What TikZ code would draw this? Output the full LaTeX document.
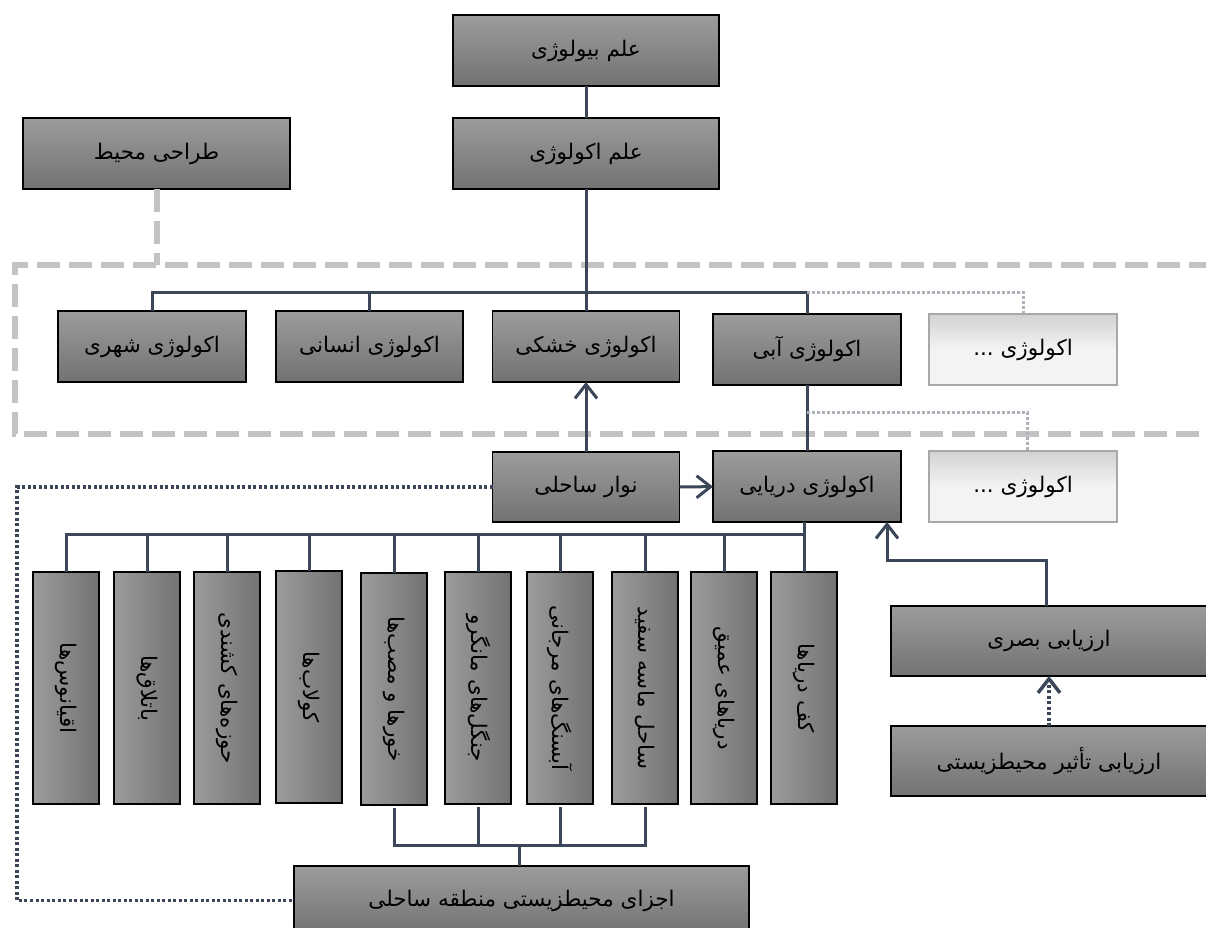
\documentclass[tikz,border=0pt]{standalone}
\usepackage{fontspec}
\usetikzlibrary{arrows.meta,calc}
\newfontfamily\fa[Script=Arabic]{DejaVu Sans}
\TeXXeTstate=1
\newcommand\myR[1]{\beginR#1\endR}
\definecolor{connc}{HTML}{3B4658}
\definecolor{boxtop}{HTML}{9C9C9C}
\definecolor{boxbot}{HTML}{727272}
\definecolor{dashc}{HTML}{C3C3C3}
\definecolor{dotgc}{HTML}{ADB2BB}
\definecolor{litetop}{HTML}{D2D2D2}
\definecolor{litebot}{HTML}{F3F3F3}
\definecolor{liteedge}{HTML}{A8A8A8}
\tikzset{
  box/.style={draw=black, line width=1.1pt, top color=boxtop, bottom color=boxbot,
    inner sep=0pt, outer sep=0pt, minimum height=71pt,
    font=\fa\fontsize{21.5}{25}\selectfont},
  litebox/.style={draw=liteedge, line width=1.1pt, top color=litetop, bottom color=litebot, middle color=litebot,
    inner sep=0pt, outer sep=0pt, minimum width=188pt, minimum height=71pt,
    font=\fa\fontsize{21.5}{25}\selectfont},
  colbox/.style={draw=black, line width=1.1pt, rotate=-90, left color=boxtop, right color=boxbot,
    inner sep=0pt, outer sep=0pt, minimum width=232pt, minimum height=66pt,
    font=\fa\fontsize{21.5}{25}\selectfont},
  conn/.style={draw=connc, line width=3pt},
  arr/.style={-{Straight Barb[length=14pt,width=22pt]}},
  dashg/.style={draw=dashc, line width=6pt, dash pattern=on 23pt off 9pt},
  dotg/.style={draw=dotgc, line width=3pt, dash pattern=on 2.5pt off 2.5pt},
  dotd/.style={draw=connc, line width=3.5pt, dash pattern=on 3pt off 2.5pt},
}
\begin{document}
\begin{tikzpicture}[x=1pt,y=1pt]
\useasboundingbox (0,0) rectangle (1206,-927);
% top nodes
\node[box, minimum width=266pt] (bio) at (586,-50.5) {\myR{علم بیولوژی}};
\node[box, minimum width=266pt] (eco) at (586,-153.5) {\myR{علم اکولوژی}};
\node[box, minimum width=267pt] (tarrahi) at (156.5,-153.5) {\myR{طراحی محیط}};
% big dashed frame
\coordinate (dtop) at (0,-265);
\draw[dashg] (1212,-265) -- (14.5,-265) -- (14.5,-434) -- (1212,-434);
\draw[dashg] (tarrahi.south) -- (tarrahi.south |- dtop);
% second row
\node[box, minimum width=188pt] (urban) at (152,-346.5) {\myR{اکولوژی شهری}};
\node[box, minimum width=187pt] (human) at (369.5,-346.5) {\myR{اکولوژی انسانی}};
\node[box, minimum width=187pt] (khoshki) at (586,-346.5) {\myR{اکولوژی خشکی}};
\node[box, minimum width=188pt] (abi) at (807,-349.5) {\myR{اکولوژی آبی}};
\node[litebox] (etc1) at (1023,-349.5) {\myR{اکولوژی ...}};
% third row
\node[box, minimum width=187pt, minimum height=70pt] (sahel) at (586,-487) {\myR{نوار ساحلی}};
\node[box, minimum width=188pt] (darya) at (807,-486.5) {\myR{اکولوژی دریایی}};
\node[litebox] (etc2) at (1023,-486.5) {\myR{اکولوژی ...}};
% columns
\node[colbox] (c1) at (66,-688) {\myR{اقیانوس‌ها}};
\node[colbox] (c2) at (147,-688) {\myR{باتلاق‌ها}};
\node[colbox] (c3) at (227,-688) {\myR{حوزه‌های کشندی}};
\node[colbox] (c4) at (309,-687) {\myR{کولاب‌ها}};
\node[colbox] (c5) at (394,-689) {\myR{خورها و مصب‌ها}};
\node[colbox] (c6) at (478,-688) {\myR{جنگل‌های مانگرو}};
\node[colbox] (c7) at (560,-688) {\myR{آبسنگ‌های مرجانی}};
\node[colbox] (c8) at (645,-688) {\myR{ساحل ماسه سفید}};
\node[colbox] (c9) at (724,-688) {\myR{دریاهای عمیق}};
\node[colbox] (c10) at (804,-688) {\myR{کف دریاها}};
% bottom
\node[box, minimum width=455pt, minimum height=69pt] (ajza) at (521.5,-900.5) {\myR{اجزای محیطزیستی منطقه ساحلی}};
\node[box, minimum width=316pt, minimum height=70pt] (basari) at (1049,-641) {\myR{ارزیابی بصری}};
\node[box, minimum width=316pt, minimum height=70pt] (tasir) at (1049,-761) {\myR{ارزیابی تأثیر محیطزیستی}};
% helper coordinates
\coordinate (bar) at (0,-292);
\coordinate (d2) at (0,-412);
\coordinate (bb) at (0,-534);
\coordinate (lb) at (0,-845);
\coordinate (ay) at (0,-560);
\coordinate (ax) at (887,0);
\coordinate (lx) at (17,0);
% connectors
\draw[conn] (bio) -- (eco);
\draw[conn] (eco) -- (khoshki);
\draw[conn] (urban.north) -- (urban.north |- bar) -- (abi.north |- bar) -- (abi.north);
\draw[conn] (human.north) -- (human.north |- bar);
\draw[dotg] (abi.north |- bar) -- (etc1.north |- bar) -- (etc1.north);
\draw[conn] (abi) -- (darya);
\draw[dotg] (abi.south |- d2) -- ($(etc2.north |- d2)+(4,0)$) -- ($(etc2.north)+(4,0)$);
\draw[conn, arr] (sahel) -- (khoshki);
\draw[conn, arr] (sahel) -- (darya);
% column bar
\draw[conn] (c10.west |- darya.south) -- (c10.west);
\draw[conn] (c1.west) -- (c1.west |- bb) -- (c10.west |- bb);
\foreach \c in {c2,c3,c4,c5,c6,c7,c8,c9}{\draw[conn] (\c.west) -- (\c.west |- bb);}
% lower bar
\draw[conn] ($(c5.east)+(0,-3)$) -- (c5.east |- lb) -- (c8.east |- lb) -- ($(c8.east)+(0,-3)$);
\draw[conn] ($(c6.east)+(0,-3)$) -- (c6.east |- lb);
\draw[conn] ($(c7.east)+(0,-3)$) -- (c7.east |- lb);
\path ($(c5.east |- lb)!0.5!(c8.east |- lb)$) coordinate (lm);
\draw[conn] (lm) -- (lm |- ajza.north);
% dark dotted
\draw[dotd] (sahel.west) -- (sahel.west -| lx) -- (lx |- ajza.west) -- (ajza.west);
% right side arrows
\draw[conn, arr] ($(basari.north)+(-3,0)$) -- ($(basari.north |- ay)+(-3,0)$) -- (ax |- ay) -- (ax |- darya.south);
\draw[dotd, arr] (tasir.north) -- (basari.south);
\end{tikzpicture}
\end{document}
